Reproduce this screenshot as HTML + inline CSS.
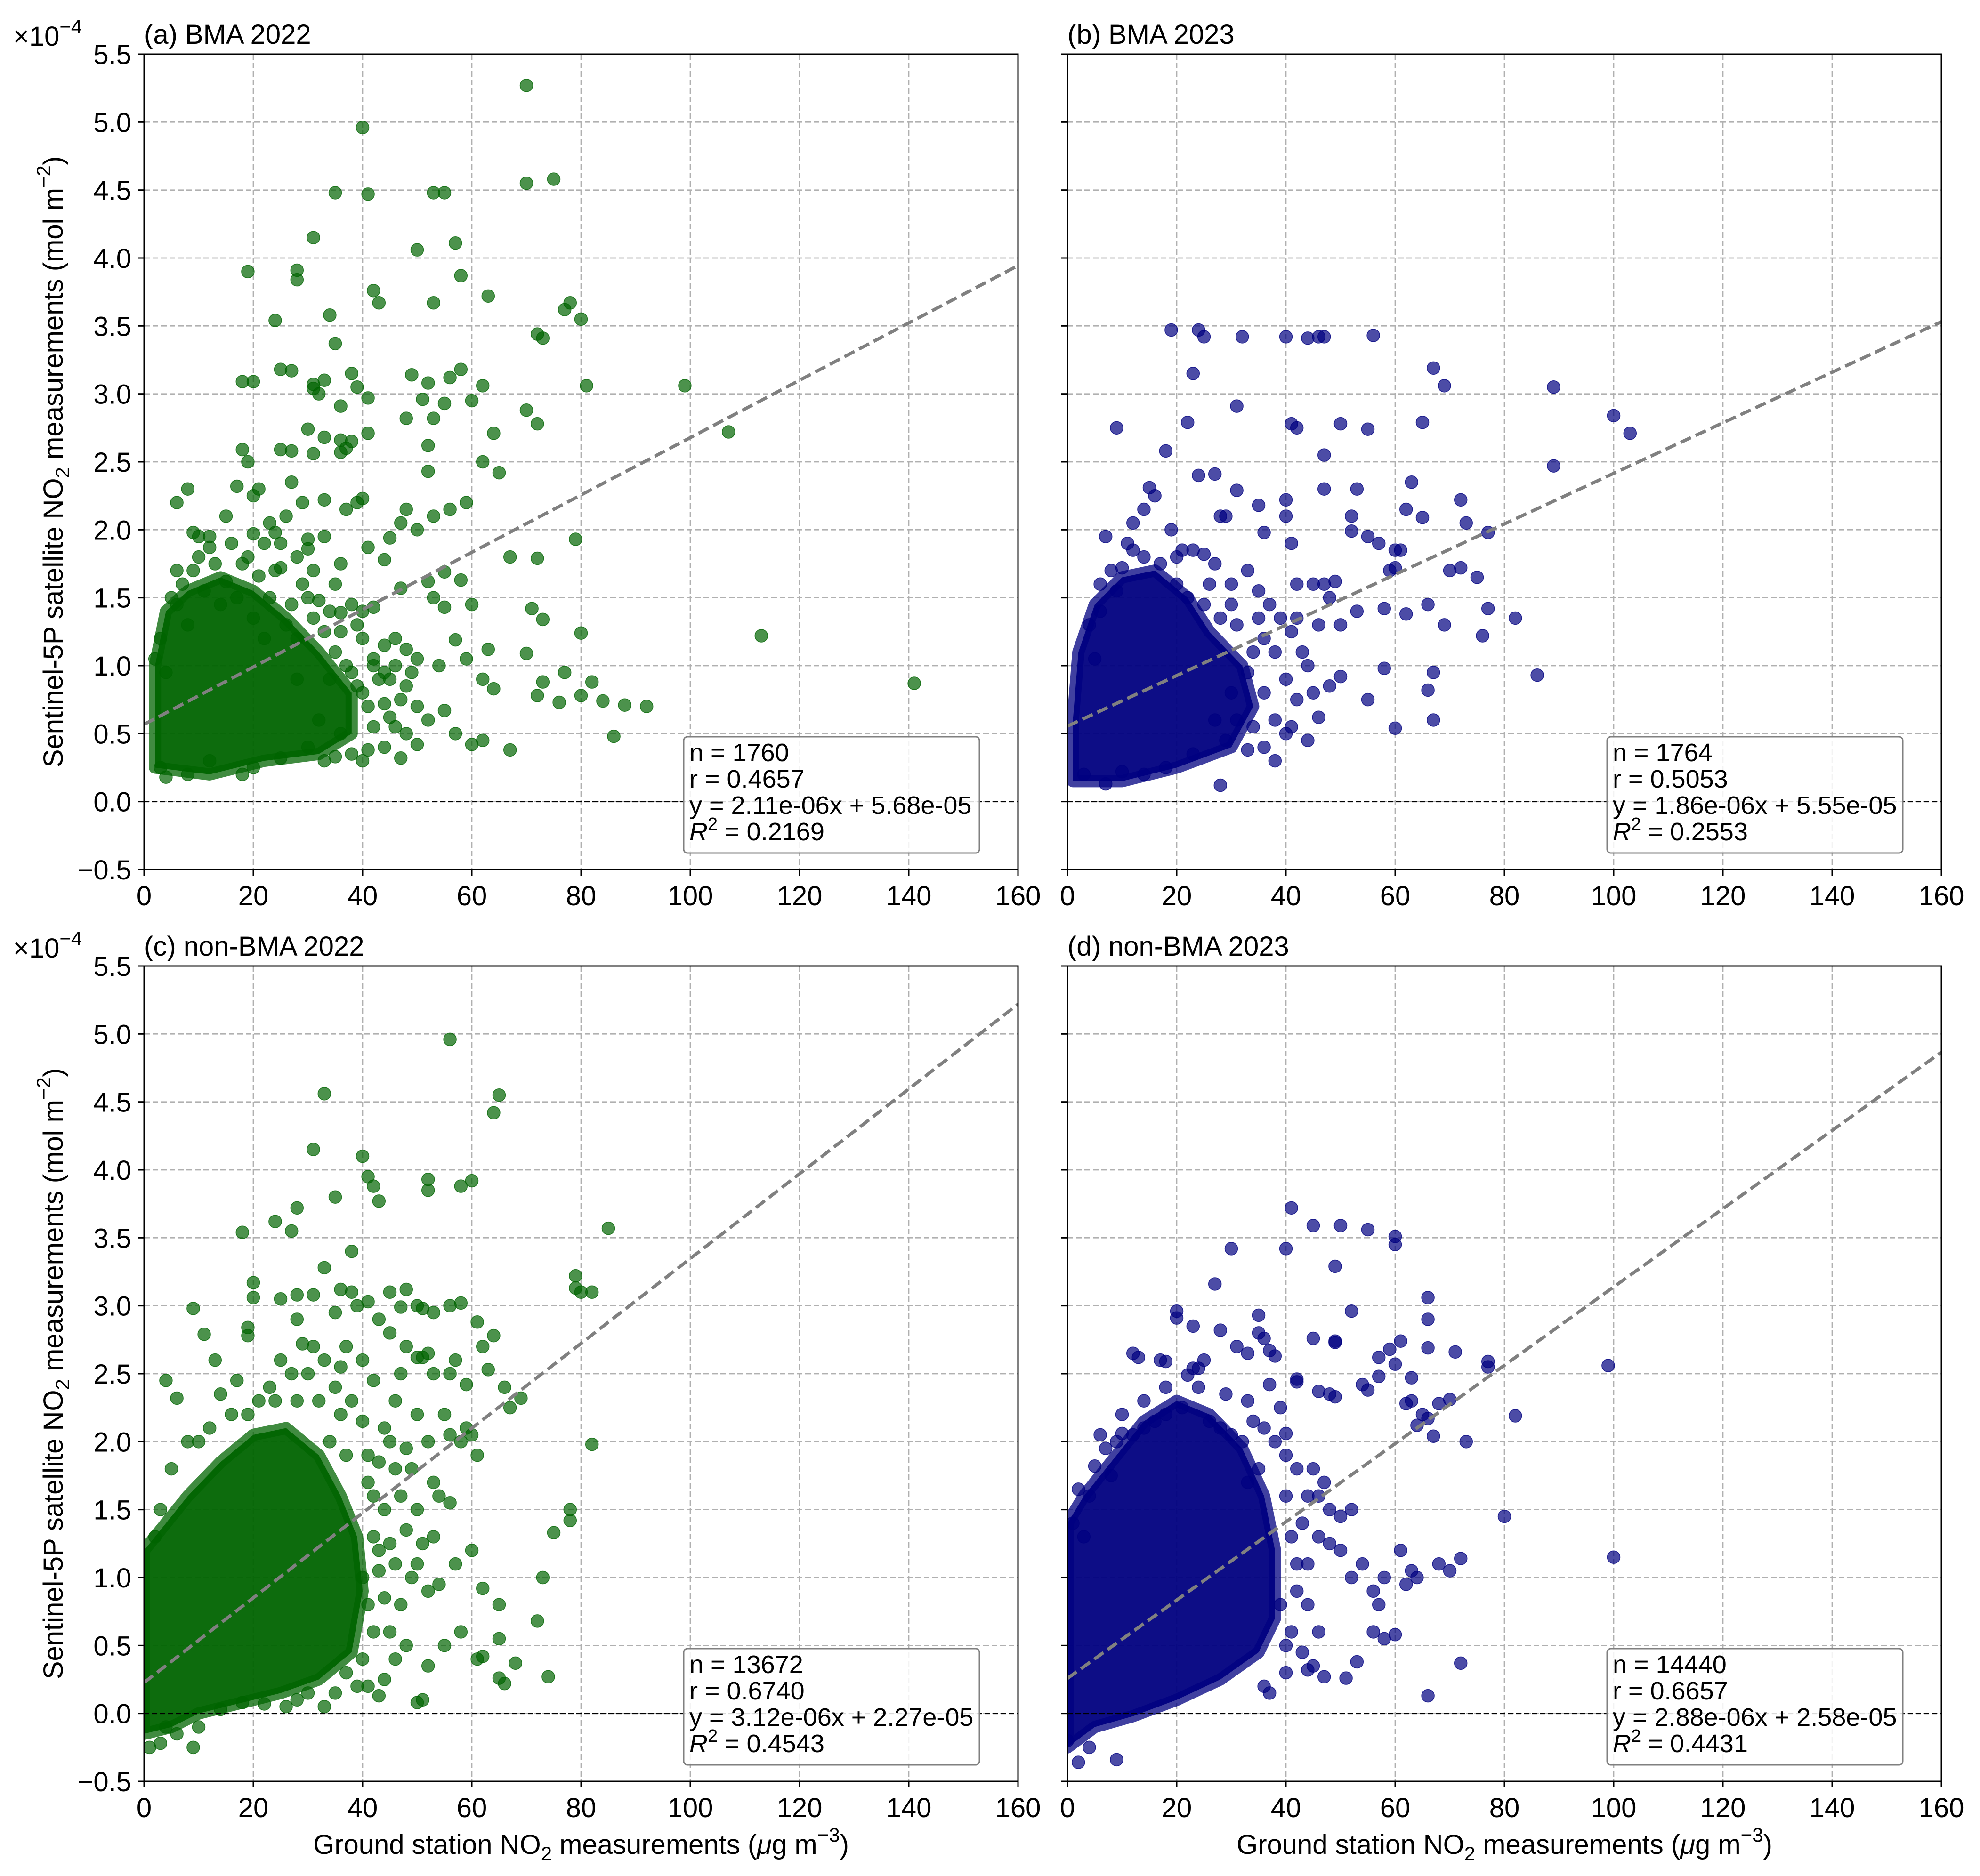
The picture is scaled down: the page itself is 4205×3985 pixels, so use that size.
<!DOCTYPE html>
<html><head><meta charset="utf-8"><style>
html,body{margin:0;padding:0;background:#fff}
svg{display:block;font-family:"Liberation Sans",Arial,sans-serif}
</style></head><body>
<svg id="fig" width="4205" height="3985" viewBox="0 0 4205 3985" xmlns="http://www.w3.org/2000/svg"></svg>
<script>
// ---- data (x: ground NO2 µg/m3, y: satellite NO2 in 1e-4 mol/m2) ----
const xTicks=[0,20,40,60,80,100,120,140,160];
const yTicks=[-0.5,0.0,0.5,1.0,1.5,2.0,2.5,3.0,3.5,4.0,4.5,5.0,5.5];
const panelTitles=["(a) BMA 2022","(b) BMA 2023","(c) non-BMA 2022","(d) non-BMA 2023"];
const slopes=[0.0211,0.0186,0.0312,0.0288];
const intercepts=[0.568,0.555,0.227,0.258];
const statN=["1760","1764","13672","14440"];
const statR=["0.4657","0.5053","0.6740","0.6657"];
const statEq=["y = 2.11e-06x + 5.68e-05","y = 1.86e-06x + 5.55e-05","y = 3.12e-06x + 2.27e-05","y = 2.88e-06x + 2.58e-05"];
const statR2=["0.2169","0.2553","0.4543","0.4431"];
const coreA="2,0.25;12,0.2;22,0.3;32,0.35;38,0.5;38,0.8;32,1.1;26,1.35;20,1.55;14,1.65;8,1.55;4,1.4;2,1.0";
const coreB="1,0.15;10,0.15;20,0.25;30,0.4;34,0.7;32,1.0;26,1.25;22,1.5;16,1.7;10,1.65;5,1.45;2,1.1;1,0.6";
const coreC="0,-0.15;5,-0.1;10,0.0;18,0.08;25,0.15;32,0.25;38,0.45;40,0.9;39,1.3;36,1.6;32,1.9;26,2.1;20,2.05;14,1.85;8,1.6;3,1.35;0,1.2";
const coreD="0,-0.25;5,-0.1;12,-0.02;20,0.1;28,0.25;35,0.45;38,0.7;38,1.2;36,1.6;32,1.95;26,2.2;20,2.3;14,2.15;8,1.85;3,1.6;0,1.4";
const ptsA="70,5.27;40,4.96;35,4.48;41,4.47;53,4.48;55,4.48;70,4.55;75,4.58;31,4.15;50,4.06;57,4.11;19,3.9;28,3.91;28,3.84;42,3.76;43,3.67;53,3.67;58,3.87;63,3.72;77,3.62;78,3.67;80,3.55;72,3.44;73,3.41;34,3.58;35,3.37;24,3.54;18,3.09;20,3.09;25,3.18;27,3.17;31,3.07;31,3.04;32,3.0;33,3.1;38,3.15;39,3.05;41,2.97;49,3.14;51,2.96;52,3.08;56,3.12;58,3.18;62,3.06;60,2.95;36,2.91;33,2.68;30,2.74;25,2.59;27,2.58;31,2.56;36,2.57;36,2.66;37,2.6;38,2.65;41,2.71;48,2.82;53,2.82;55,2.93;52,2.62;70,2.88;72,2.78;64,2.71;65,2.42;81,3.06;99,3.06;107,2.72;59,2.2;62,2.5;52,2.43;56,2.15;53,2.1;20,2.25;19,2.5;18,2.59;8,2.3;17,2.32;6,2.2;9,1.98;10,1.95;12,1.87;20,1.97;24,1.98;30,1.93;33,2.22;37,2.15;39,2.2;40,2.23;47,2.05;48,2.15;50,2.0;41,1.87;44,1.78;45,1.94;36,1.75;30,1.86;55,1.69;58,1.63;60,1.45;67,1.8;72,1.79;79,1.93;71,1.42;73,1.34;80,1.24;55,1.43;52,1.62;53,1.5;47,1.57;42,1.43;39,1.3;36,1.39;32,1.48;48,1.12;50,1.05;54,1.0;57,1.19;59,1.05;63,1.12;62,0.9;64,0.83;70,1.09;73,0.88;77,0.95;72,0.78;76,0.73;80,0.78;84,0.74;88,0.71;92,0.7;82,0.88;86,0.48;113,1.22;141,0.87;67,0.38;60,0.42;62,0.45;55,0.67;57,0.5;50,0.42;45,0.62;41,0.38;47,0.32;36,0.5;35,0.33;33,0.3;30,0.4;25,0.32;20,0.25;12,0.3;3,0.25;2,1.05;4,0.95;48,0.85;45,0.9;43,0.9;40,0.8;38,0.95;44,0.72;47,0.75;52,0.6;5,1.5;7,1.6;9,1.7;11,1.55;13,1.75;15,1.62;17,1.5;19,1.8;21,1.66;23,1.5;25,1.72;27,1.45;29,1.6;31,1.35;33,1.25;35,1.1;37,1.0;39,0.85;41,0.7;34,0.9;28,1.2;26,1.3;22,1.2;20,1.35;14,1.45;8,1.3;6,1.45;12,1.95;16,1.9;22,1.9;26,2.1;28,1.8;31,1.7;35,1.6;38,1.45;40,1.2;42,1.05;44,0.95;46,0.55;38,0.35;32,0.6;28,0.9;18,0.2;8,0.2;4,0.18;3,1.2;23,2.05;15,2.1;27,2.35;29,2.2;21,2.3;33,1.95;25,1.9;42,1.0;44,1.15;46,1.2;40,1.4;36,1.25;34,1.4;30,1.5;24,1.7;18,1.75;10,1.8;6,1.7;42,0.55;40,0.3;44,0.4;48,0.5;50,0.7;46,1.0;49,0.95";
const ptsB="19,3.47;24,3.47;25,3.42;32,3.42;40,3.42;44,3.41;46,3.42;47,3.42;56,3.43;23,3.15;67,3.19;69,3.06;89,3.05;100,2.84;103,2.71;9,2.75;22,2.79;31,2.91;41,2.78;42,2.75;50,2.78;55,2.74;65,2.79;89,2.47;18,2.58;47,2.55;24,2.4;27,2.41;31,2.29;29,2.1;28,2.1;16,2.25;15,2.31;14,2.15;35,2.18;40,2.22;40,2.1;47,2.3;53,2.3;52,2.1;63,2.35;65,2.09;73,2.05;72,2.22;62,2.15;60,1.85;61,1.85;52,1.99;55,1.95;57,1.9;36,1.98;41,1.9;77,1.98;72,1.72;70,1.7;75,1.65;42,1.6;45,1.6;47,1.6;49,1.62;60,1.72;59,1.7;48,1.5;46,1.3;50,1.3;53,1.4;58,1.42;62,1.38;66,1.45;69,1.3;77,1.42;82,1.35;76,1.22;86,0.93;67,0.95;66,0.82;58,0.98;50,0.92;48,0.85;60,0.54;67,0.6;55,0.75;45,0.8;42,0.75;41,0.55;28,0.12;7,0.13;3,0.2;4,1.3;5,1.05;7,1.95;8,1.7;10,1.72;11,1.9;12,2.05;19,2.0;21,1.85;23,1.85;25,1.82;27,1.75;30,1.6;33,1.7;35,1.55;37,1.45;39,1.35;41,1.25;43,1.1;44,1.0;38,1.1;36,1.2;33,0.95;30,0.8;27,0.6;29,0.45;33,0.38;36,0.4;40,0.5;46,0.62;20,1.6;17,1.75;14,1.8;9,1.55;6,1.4;31,1.3;34,1.1;18,0.25;14,0.2;10,0.22;23,0.35;25,1.45;28,1.35;22,1.5;36,0.8;38,0.6;40,0.9;42,1.35;35,1.35;30,1.45;26,1.6;20,1.8;12,1.85;6,1.6;31,0.6;34,0.55;38,0.3;44,0.45";
const ptsC="56,4.96;33,4.56;65,4.55;64,4.42;31,4.15;40,4.1;41,3.95;42,3.88;60,3.92;58,3.88;52,3.93;52,3.85;35,3.8;43,3.77;28,3.72;18,3.54;24,3.62;27,3.55;85,3.57;79,3.22;79,3.13;80,3.1;82,3.1;38,3.4;33,3.28;20,3.17;20,3.06;9,2.98;11,2.79;19,2.84;19,2.78;25,3.05;28,3.08;31,3.08;36,3.12;38,3.1;41,3.03;45,3.1;47,2.99;48,3.12;50,3.0;51,2.98;53,2.95;56,3.0;58,3.02;61,2.88;62,2.7;64,2.78;63,2.53;57,2.6;52,2.65;50,2.62;48,2.7;45,2.8;43,2.9;39,3.0;35,2.95;28,2.9;13,2.6;4,2.45;6,2.32;10,2.0;14,2.35;17,2.45;37,2.7;36,2.55;47,2.5;51,2.62;53,2.5;56,2.5;59,2.42;66,2.4;67,2.25;69,2.32;78,1.5;78,1.42;75,1.33;73,1.0;60,1.2;57,1.1;62,0.92;65,0.8;65,0.55;72,0.68;68,0.37;61,0.4;62,0.42;65,0.26;66,0.22;74,0.27;52,0.35;41,0.2;43,0.13;50,0.08;51,0.1;48,0.5;45,0.6;55,0.5;58,0.6;82,1.98;53,1.7;54,1.6;56,1.55;58,2.0;59,2.1;60,2.05;61,1.9;55,2.2;56,2.05;50,2.2;48,1.95;46,1.8;45,2.0;44,1.5;42,1.3;43,1.2;46,1.1;48,1.35;50,1.1;52,0.9;54,0.95;53,1.3;50,1.5;47,1.6;45,1.25;41,1.7;41,1.9;40,2.15;38,2.3;35,2.4;33,2.6;31,2.7;29,2.72;27,2.5;25,2.6;23,2.4;21,2.3;19,2.2;16,2.2;12,2.1;8,2.0;5,1.8;3,1.5;2,1.3;44,0.85;42,0.6;40,0.4;37,0.3;33,0.05;30,0.15;28,0.1;22,0.07;18,0.08;14,0.03;10,-0.1;6,-0.15;3,-0.22;1,-0.25;9,-0.25;4,-0.1;40,1.0;41,0.8;39,0.2;42,1.6;43,1.85;44,2.1;46,2.3;42,2.45;40,2.6;36,2.2;32,2.3;28,2.3;24,2.3;30,2.5;34,2.0;37,1.9;43,1.05;46,0.4;44,0.25;35,0.15;26,0.05;47,0.8;49,1.0;51,1.25;49,1.8;52,2.0";
const ptsD="41,3.72;45,3.59;50,3.59;55,3.56;60,3.51;60,3.45;30,3.42;40,3.42;49,3.29;27,3.16;66,3.06;66,2.9;66,2.69;52,2.96;20,2.96;20,2.91;23,2.85;35,2.93;35,2.8;36,2.76;28,2.82;31,2.7;33,2.65;37,2.67;38,2.63;45,2.76;49,2.73;49,2.74;57,2.62;59,2.68;61,2.74;71,2.66;77,2.59;77,2.55;60,2.57;54,2.42;57,2.48;63,2.47;12,2.65;13,2.62;17,2.6;18,2.59;25,2.6;23,2.54;22,2.49;24,2.54;37,2.42;42,2.46;42,2.44;46,2.37;48,2.35;49,2.33;55,2.38;62,2.28;63,2.3;65,2.2;68,2.28;70,2.31;64,2.12;66,2.17;67,2.04;73,2.0;82,2.19;99,2.56;100,1.15;80,1.45;72,1.14;70,1.05;68,1.1;63,1.05;64,1.0;61,1.2;62,0.95;56,0.9;58,1.0;57,0.8;52,1.0;54,1.1;56,0.6;58,0.55;60,0.58;53,0.38;72,0.37;66,0.13;51,0.26;47,0.27;45,0.35;44,0.32;36,0.2;37,0.15;2,-0.36;9,-0.34;4,-0.25;0,-0.2;2,1.65;3,1.3;5,1.82;7,1.95;9,2.0;10,2.06;12,2.05;14,2.1;16,2.15;18,2.2;21,2.25;26,2.15;28,2.1;30,2.05;32,2.0;34,2.15;36,2.1;38,2.0;40,2.06;42,1.8;44,1.6;46,1.6;48,1.5;50,1.45;52,1.5;50,1.2;48,1.25;46,1.3;44,1.1;42,0.9;41,0.6;40,0.5;39,0.8;41,1.3;43,1.4;45,1.8;47,1.7;35,1.8;33,1.7;8,1.75;4,1.6;1,1.4;40,1.6;40,1.9;42,1.1;44,0.8;46,0.6;43,0.45;40,0.3;33,2.3;29,2.35;24,2.4;18,2.4;14,2.3;10,2.2;6,2.05;39,2.25";
const cores=[coreA,coreB,coreC,coreD];
const points=[ptsA,ptsB,ptsC,ptsD];
const colors=["#006400","#000080","#006400","#000080"];

// ---- layout ----
const NS="http://www.w3.org/2000/svg";
const svg=document.getElementById('fig');
const PW=1856,PH=1732;
const lefts=[306,2267,306,2267],tops=[115,115,2052,2052];
const FS=58,SUB=42;
function el(tag,attrs,parent){const e=document.createElementNS(NS,tag);for(const k in attrs)e.setAttribute(k,attrs[k]);(parent||svg).appendChild(e);return e;}
function parse(s){return s.split(';').map(p=>p.split(',').map(Number));}

for(let i=0;i<4;i++){
  const L=lefts[i],T=tops[i];
  const sx=v=>L+v/160*PW, sy=v=>T+(5.5-v)/6*PH;
  const g=el('g',{});
  
  
  const cp=el('clipPath',{id:'clip'+i},g);el('rect',{x:L,y:T,width:PW,height:PH},cp);
  xTicks.forEach(t=>{const l=el('line',{x1:sx(t),x2:sx(t),y1:T,y2:T+PH,stroke:'#b0b0b0','stroke-width':2.7,'stroke-dasharray':'12 6'},g);
    });
  yTicks.forEach(t=>{const l=el('line',{x1:L,x2:L+PW,y1:sy(t),y2:sy(t),stroke:'#b0b0b0','stroke-width':2.7,'stroke-dasharray':'12 6'},g);
    });
  const pg=el('g',{'clip-path':'url(#clip'+i+')'},g);
  const core=parse(cores[i]);
  const cpath=el('path',{d:'M'+core.map(p=>sx(p[0])+','+sy(p[1])).join('L')+'Z',fill:colors[i],stroke:colors[i],'stroke-width':26,'stroke-linejoin':'round','fill-opacity':0.95,'stroke-opacity':0.75},pg);
  
  
  parse(points[i]).forEach(p=>{
    const c=el('circle',{cx:sx(p[0]),cy:sy(p[1]),r:13.5,fill:colors[i],'fill-opacity':0.7,stroke:colors[i],'stroke-opacity':0.8,'stroke-width':1.5},pg);
    
    
  });
  const z=el('line',{x1:L,x2:L+PW,y1:sy(0),y2:sy(0),stroke:'#000','stroke-width':3,'stroke-dasharray':'11 6'},g);
  
  const r=el('line',{x1:sx(0),y1:sy(intercepts[i]),x2:sx(160),y2:sy(intercepts[i]+slopes[i]*160),stroke:'#808080','stroke-width':7,'stroke-dasharray':'24 11'},pg);
  
  const fr=el('rect',{x:L,y:T,width:PW,height:PH,fill:'none',stroke:'#000','stroke-width':3},g);
  
  xTicks.forEach(t=>{el('line',{x1:sx(t),x2:sx(t),y1:T+PH,y2:T+PH+13,stroke:'#000','stroke-width':3},g);
    const tx=el('text',{x:sx(t),y:T+PH+76,'font-size':FS,'text-anchor':'middle'},g);tx.textContent=t;
    });
  yTicks.forEach(t=>{el('line',{x1:L-13,x2:L,y1:sy(t),y2:sy(t),stroke:'#000','stroke-width':3},g);
    if(i%2===0){const tx=el('text',{x:L-27,y:sy(t)+21,'font-size':FS,'text-anchor':'end'},g);tx.textContent=(t<0?'\u2212':'')+Math.abs(t).toFixed(1);
    }});
  const ti=el('text',{x:L,y:T-22,'font-size':FS},g);ti.textContent=panelTitles[i];
  
  if(i%2===0){
    const m=el('text',{x:28,y:T-18,'font-size':FS},g);m.innerHTML='×10<tspan dy="-26" font-size="'+SUB+'">−4</tspan>';
    
    const yl=el('text',{x:0,y:0,'font-size':FS,'text-anchor':'middle',transform:'translate(133,'+(T+PH/2)+') rotate(-90)'},g);
    yl.innerHTML='Sentinel-5P satellite NO<tspan dy="14" font-size="'+SUB+'">2</tspan><tspan dy="-14"> measurements (mol m</tspan><tspan dy="-26" font-size="'+SUB+'">−2</tspan><tspan dy="26">)</tspan>';
    
  }
  if(i>=2){
    const xl=el('text',{x:L+PW/2,y:3938,'font-size':FS,'text-anchor':'middle'},g);
    xl.innerHTML='Ground station NO<tspan dy="14" font-size="'+SUB+'">2</tspan><tspan dy="-14"> measurements (</tspan><tspan font-style="italic">μ</tspan>g m<tspan dy="-26" font-size="'+SUB+'">−3</tspan><tspan dy="26">)</tspan>';
    
  }
  const bx=L+1146,by=T+1450;
  const sb=el('g',{},g);
  
  el('rect',{x:bx,y:by,width:628,height:247,rx:8,fill:'#fff','fill-opacity':0.85,stroke:'#808080','stroke-width':3},sb);
  const lines=['n = '+statN[i],'r = '+statR[i],statEq[i]];
  lines.forEach((s,k)=>{const t=el('text',{x:bx+12,y:by+52+k*56,'font-size':54},sb);t.textContent=s;});
  const t4=el('text',{x:bx+12,y:by+52+3*56,'font-size':54},sb);
  t4.innerHTML='<tspan font-style="italic">R</tspan><tspan dy="-22" font-size="38">2</tspan><tspan dy="22"> = '+statR2[i]+'</tspan>';
}
</script>
</body></html>
